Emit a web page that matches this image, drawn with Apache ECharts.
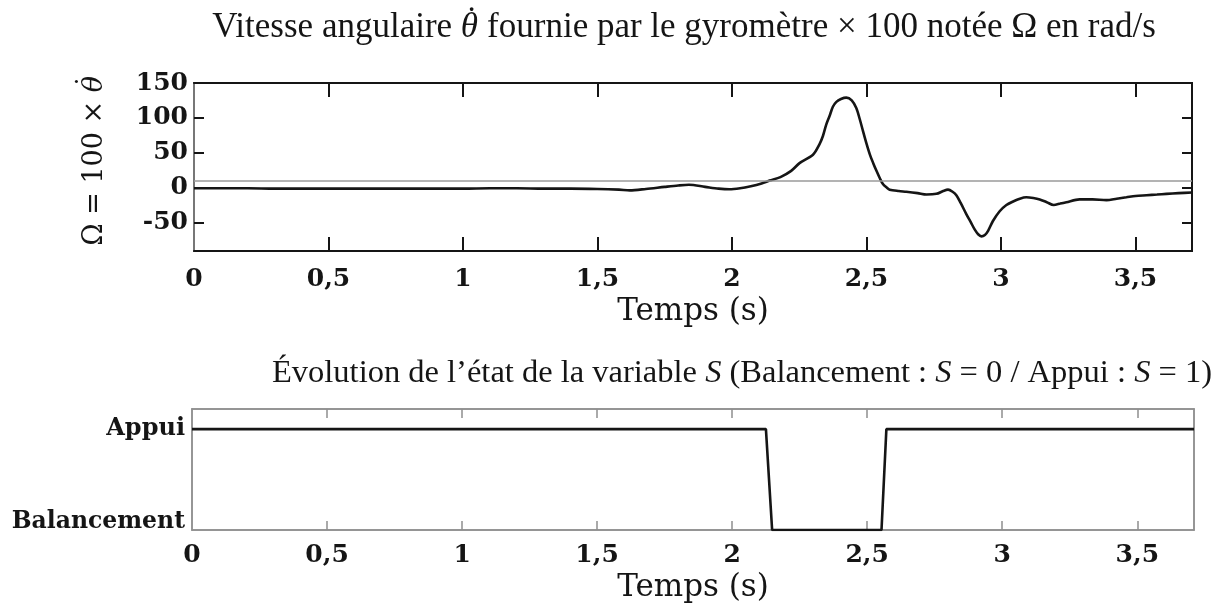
<!DOCTYPE html>
<html>
<head>
<meta charset="utf-8">
<title>Gyromètre</title>
<script src="https://cdn.jsdelivr.net/npm/echarts@6/dist/echarts.min.js"></script>
<style>
  html, body { margin: 0; padding: 0; background: #fff; }
  #main { width: 1222px; height: 607px; }
</style>
</head>
<body>
<div id="main"></div>
<script>
// temps (s) et Omega = 100 x theta point
var temps = [0, 0.1, 0.2, 0.3, 0.4, 0.5, 0.6, 0.7, 0.8, 0.9, 1.0, 1.1, 1.2, 1.3, 1.4, 1.5,
    1.58, 1.62, 1.68, 1.75, 1.8, 1.84, 1.9, 1.95, 1.99, 2.03, 2.07, 2.11, 2.14, 2.18, 2.22,
    2.251, 2.301, 2.325, 2.338, 2.35, 2.363, 2.375, 2.388, 2.405, 2.425, 2.445, 2.462, 2.475,
    2.487, 2.5, 2.512, 2.525, 2.537, 2.55, 2.561, 2.575, 2.586, 2.62, 2.648, 2.69, 2.723,
    2.76, 2.785, 2.803, 2.82, 2.834, 2.85, 2.871, 2.888, 2.902, 2.915, 2.927, 2.94, 2.952,
    2.97, 2.995, 3.02, 3.045, 3.07, 3.094, 3.12, 3.144, 3.17, 3.196, 3.22, 3.243, 3.292,
    3.34, 3.392, 3.43, 3.466, 3.5, 3.541, 3.58, 3.615, 3.66, 3.71];
var omega = [-1, -1, -1, -1.5, -1.5, -1.5, -1.5, -1.5, -1.5, -1.5, -1.5, -1, -1, -1.5, -1.5, -2,
    -3, -4, -2, 1, 3, 4, 1, -1.5, -2.5, -1, 2, 6, 10, 15, 24,
    35, 47, 62, 74, 90, 103, 116, 123, 127, 129, 125, 114, 98,
    81, 63, 48, 35, 24, 13, 5, 0, -3, -5, -6, -8, -10,
    -9, -5, -3, -6, -11, -22, -38, -50, -60, -67, -70, -68, -62,
    -48, -34, -25, -20, -16, -14, -15, -17, -21, -25, -23, -21, -17,
    -17, -18, -16, -14, -12, -11, -10, -9, -8, -7];
var seuil = 10;

// état S : 1 = Appui, 0 = Balancement
var tempsS = [0, 2.125, 2.148, 2.553, 2.571, 3.71];
var etatS = [1, 1, 0, 0, 1, 1];

var xTicks = [0.5, 1, 1.5, 2, 2.5, 3, 3.5];
var xLabels = [0, 0.5, 1, 1.5, 2, 2.5, 3, 3.5];
var yTicks = [-50, 0, 50, 100];
var yLabels = [-50, 0, 50, 100, 150];

window.onload = function () {
    var myChart = echarts.init(document.getElementById('main'));

    var serifB = 'DejaVu Serif';
    var times = 'Liberation Serif';
    var noir = '#151515';
    var gris = '#8f8f8f';

    var omegaData = [];
    for (var i = 0; i < temps.length; i++) {
        omegaData.push([temps[i], omega[i]]);
    }
    var sData = [];
    for (var j = 0; j < tempsS.length; j++) {
        sData.push([tempsS[j], etatS[j]]);
    }

    function virgule(v) {
        return String(v).replace('.', ',');
    }

    // theta point : jetons alignés à gauche, le jeton du theta est plus étroit
    // que le glyphe pour que le point retombe au-dessus
    var option = {
        animation: false,
        backgroundColor: '#fff',
        title: [{
            text: '{n|Vitesse angulaire }{t|θ}{d|˙}{n| fournie par le gyromètre × 100 notée Ω en rad/s}',
            left: 684,
            top: 4,
            textAlign: 'center',
            padding: 0,
            textStyle: {
                fontFamily: times, fontSize: 35, fontWeight: 'normal', color: noir,
                rich: {
                    n: { fontFamily: times, fontSize: 35, color: noir, align: 'left' },
                    t: { fontFamily: times, fontSize: 35, fontStyle: 'italic', color: noir, width: 5, align: 'left' },
                    d: { fontFamily: times, fontSize: 35, color: noir, width: 12.5, align: 'left', padding: [0, 0, 12, 0] }
                }
            }
        }, {
            text: 'Évolution de l’état de la variable {i|S} (Balancement : {i|S} = 0 / Appui : {i|S} = 1)',
            left: 742,
            top: 357,
            textAlign: 'center',
            padding: 0,
            textStyle: {
                fontFamily: times, fontSize: 32.5, fontWeight: 'normal', color: noir,
                rich: { i: { fontFamily: times, fontSize: 32.5, fontStyle: 'italic', color: noir } }
            }
        }],
        grid: [
            { left: 194, top: 83, width: 998, height: 168, show: true, borderColor: noir, borderWidth: 2 },
            { left: 192, top: 409, width: 1002, height: 121, show: true, borderColor: gris, borderWidth: 1.5 }
        ],
        xAxis: [{
            gridIndex: 0, type: 'value', min: 0, max: 3.71, position: 'bottom',
            axisLine: { show: true, onZero: false, lineStyle: { color: noir, width: 2 } },
            axisTick: { show: true, inside: true, length: 14, customValues: xTicks, lineStyle: { color: noir, width: 2 } },
            axisLabel: {
                customValues: xLabels, margin: 16, formatter: virgule,
                fontFamily: serifB, fontWeight: 'bold', fontSize: 25, color: noir
            },
            splitLine: { show: false },
            name: 'Temps (s)', nameLocation: 'middle', nameGap: 45,
            nameTextStyle: { fontFamily: serifB, fontSize: 31, color: noir }
        }, {
            gridIndex: 0, type: 'value', min: 0, max: 3.71, position: 'top',
            axisLine: { show: true, onZero: false, lineStyle: { color: noir, width: 2 } },
            axisTick: { show: true, inside: true, length: 14, customValues: xTicks, lineStyle: { color: noir, width: 2 } },
            axisLabel: { show: false },
            splitLine: { show: false }
        }, {
            gridIndex: 1, type: 'value', min: 0, max: 3.71, position: 'bottom',
            axisLine: { show: true, onZero: false, lineStyle: { color: gris, width: 1.5 } },
            axisTick: { show: true, inside: true, length: 9, customValues: xTicks, lineStyle: { color: gris, width: 1.5 } },
            axisLabel: {
                customValues: xLabels, margin: 13, formatter: virgule,
                fontFamily: serifB, fontWeight: 'bold', fontSize: 25, color: noir
            },
            splitLine: { show: false },
            name: 'Temps (s)', nameLocation: 'middle', nameGap: 42,
            nameTextStyle: { fontFamily: serifB, fontSize: 31, color: noir }
        }, {
            gridIndex: 1, type: 'value', min: 0, max: 3.71, position: 'top',
            axisLine: { show: true, onZero: false, lineStyle: { color: gris, width: 1.5 } },
            axisTick: { show: true, inside: true, length: 9, customValues: xTicks, lineStyle: { color: gris, width: 1.5 } },
            axisLabel: { show: false },
            splitLine: { show: false }
        }],
        yAxis: [{
            gridIndex: 0, type: 'value', min: -91, max: 150, position: 'left',
            axisLine: { show: true, onZero: false, lineStyle: { color: '#777', width: 2 } },
            axisTick: { show: true, inside: true, length: 10, customValues: yTicks, lineStyle: { color: noir, width: 2 } },
            axisLabel: {
                customValues: yLabels, margin: 6,
                fontFamily: serifB, fontWeight: 'bold', fontSize: 25, color: noir
            },
            splitLine: { show: false },
            name: '{n|Ω = 100 × }{t|θ}{d|˙}', nameLocation: 'middle', nameGap: 80, nameRotate: 90,
            nameTextStyle: {
                fontFamily: serifB, fontSize: 27, color: noir, padding: [0, 0, 0, 12],
                rich: {
                    n: { fontFamily: serifB, fontSize: 27, color: noir, align: 'left' },
                    t: { fontFamily: serifB, fontSize: 27, fontStyle: 'italic', color: noir, width: 4, align: 'left' },
                    d: { fontFamily: serifB, fontSize: 27, color: noir, width: 12, align: 'left', padding: [0, 0, 12, 0] }
                }
            }
        }, {
            gridIndex: 0, type: 'value', min: -91, max: 150, position: 'right',
            axisLine: { show: true, onZero: false, lineStyle: { color: noir, width: 2 } },
            axisTick: { show: true, inside: true, length: 10, customValues: yTicks, lineStyle: { color: noir, width: 2 } },
            axisLabel: { show: false },
            splitLine: { show: false }
        }, {
            gridIndex: 1, type: 'value', min: 0, max: 1.2, position: 'left',
            axisLine: { show: true, onZero: false, lineStyle: { color: gris, width: 1.5 } },
            axisTick: { show: false },
            axisLabel: {
                customValues: [0, 1], margin: 7,
                formatter: function (v) {
                    return v === 1 ? '{a|Appui}' : '{b|Balancement}';
                },
                rich: {
                    a: { fontFamily: serifB, fontWeight: 'bold', fontSize: 24, color: noir },
                    b: { fontFamily: serifB, fontWeight: 'bold', fontSize: 23.5, color: noir, padding: [0, 0, 16, 0] }
                }
            },
            splitLine: { show: false }
        }, {
            gridIndex: 1, type: 'value', min: 0, max: 1.2, position: 'right',
            axisLine: { show: true, onZero: false, lineStyle: { color: gris, width: 1.5 } },
            axisTick: { show: false },
            axisLabel: { show: false },
            splitLine: { show: false }
        }],
        series: [{
            name: 'Omega',
            type: 'line',
            xAxisIndex: 0,
            yAxisIndex: 0,
            data: omegaData,
            symbol: 'none',
            smooth: 0.3,
            lineStyle: { color: noir, width: 2.6 },
            markLine: {
                silent: true,
                symbol: 'none',
                label: { show: false },
                lineStyle: { color: '#9a9a9a', width: 1.5, type: 'solid' },
                data: [{ yAxis: seuil }]
            },
            z: 3
        }, {
            name: 'S',
            type: 'line',
            xAxisIndex: 2,
            yAxisIndex: 2,
            data: sData,
            symbol: 'none',
            lineStyle: { color: noir, width: 2.6 },
            z: 3
        }]
    };
    myChart.setOption(option);
};
</script>
</body>
</html>
